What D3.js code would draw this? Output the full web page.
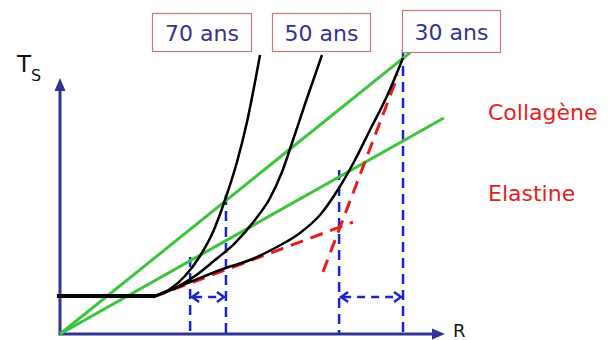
<!DOCTYPE html>
<html><head><meta charset="utf-8">
<script src="https://cdn.jsdelivr.net/npm/d3@7"></script>
<style>body{margin:0;background:#fff}svg{display:block}</style>
</head><body>
<svg id="c" width="612" height="340"></svg>
<script>
// ---- data (schematic units: R on x, T_S on y) ----
const ageLabels = ["70 ans", "50 ans", "30 ans"];
const curve70R = [24.68, 28.57, 32.47, 36.36, 39.74, 43.12, 45.97, 48.57, 51.95];
const curve70T = [12.67, 15.0, 19.33, 26.0, 34.0, 45.67, 57.33, 70.67, 93.0];
const curve50R = [24.68, 29.87, 35.06, 40.26, 45.45, 50.65, 54.55, 57.66, 60.26, 63.64, 68.05];
const curve50T = [12.67, 15.33, 19.33, 24.67, 30.33, 38.0, 45.33, 54.0, 63.67, 76.67, 93.0];
const curve30R = [24.68, 33.77, 42.34, 49.35, 55.84, 62.34, 67.53, 72.47, 76.62, 80.52, 84.94, 89.09];
const curve30T = [12.67, 17.33, 21.67, 24.67, 28.67, 33.67, 39.67, 48.67, 58.0, 68.0, 79.33, 92.0];
const baselineR = [-0.8, 24.68];
const baselineT = [12.67, 12.67];
const greenEndR = [94.3, 99.7];
const greenEndT = [97.3, 72.0];
const vlineR = [33.8, 43.1, 72.5, 89.1];
const vlineTopT = [25.7, 46.3, 54.7, 94.7];
const arrowPairs = [[33.8, 43.1], [72.5, 89.1]];
const arrowT = 12.3;
const elastineTanR = [24.2, 76.1];
const elastineTanT = [12.3, 37.3];
const collagenTanR = [68.3, 87.8];
const collagenTanT = [20.7, 86.3];
const fiberLabels = ["Collagène", "Elastine"];
const axisTopT = 85.3;

// ---- scales ----
const x = d3.scaleLinear().domain([0, 100]).range([60, 445]);
const y = d3.scaleLinear().domain([0, 100]).range([334, 34]);
const svg = d3.select("#c");
const line = d3.line().x(d => x(d[0])).y(d => y(d[1]));
const smooth = d3.line().x(d => x(d[0])).y(d => y(d[1])).curve(d3.curveMonotoneX);
const zip = (a, b) => a.map((v, i) => [v, b[i]]);

const AX = "#34338f", BLUE = "#1c23c8", RED = "#e41e1e", GREEN = "#3cc43c";

// axes
const axG = svg.append("g");
axG.append("line").attr("x1", x(0)).attr("y1", y(0)).attr("x2", x(0)).attr("y2", y(axisTopT) + 10)
  .attr("stroke", AX).attr("stroke-width", 3);
axG.append("path").attr("d", `M${x(0)},${y(axisTopT)} l-5.5,13 l11,0 z`).attr("fill", AX);
axG.append("line").attr("x1", x(0) - 1.5).attr("y1", y(0)).attr("x2", x(100) - 10).attr("y2", y(0))
  .attr("stroke", AX).attr("stroke-width", 3);
axG.append("path").attr("d", `M${x(100)},${y(0)} l-13,-5.5 l0,11 z`).attr("fill", AX);

// axis labels
const ts = svg.append("text").attr("x", 17).attr("y", 72).attr("font-family", "DejaVu Sans")
  .attr("font-size", 23).attr("fill", "#111");
ts.append("tspan").text("T");
ts.append("tspan").attr("font-size", 16).attr("dy", 9).text("S");
svg.append("text").attr("x", 453).attr("y", 337).attr("font-family", "DejaVu Sans")
  .attr("font-size", 18).attr("fill", "#111").text("R");

// blue dashed verticals
svg.append("g").selectAll("line").data(vlineR).join("line")
  .attr("x1", d => x(d)).attr("x2", d => x(d))
  .attr("y1", (d, i) => y(vlineTopT[i])).attr("y2", y(0))
  .attr("stroke", BLUE).attr("stroke-width", 2.5).attr("stroke-dasharray", "10,6");

// double arrows
const arrG = svg.append("g");
arrowPairs.forEach(p => {
  const x1 = x(p[0]) + 2, x2 = x(p[1]) - 2, yy = y(arrowT);
  arrG.append("line").attr("x1", x1 + 2).attr("x2", x2 - 2).attr("y1", yy).attr("y2", yy)
    .attr("stroke", BLUE).attr("stroke-width", 2.5).attr("stroke-dasharray", "8,6");
  arrG.append("path").attr("d", `M${x1 + 7},${yy - 5} L${x1},${yy} L${x1 + 7},${yy + 5}`)
    .attr("fill", "none").attr("stroke", BLUE).attr("stroke-width", 2.5);
  arrG.append("path").attr("d", `M${x2 - 7},${yy - 5} L${x2},${yy} L${x2 - 7},${yy + 5}`)
    .attr("fill", "none").attr("stroke", BLUE).attr("stroke-width", 2.5);
});

// green lines
svg.append("g").selectAll("path").data(greenEndR).join("path")
  .attr("d", (d, i) => line([[0, 0], [d, greenEndT[i]]]))
  .attr("stroke", GREEN).attr("stroke-width", 3).attr("fill", "none");

// red dashed tangents
svg.append("path").attr("d", line(zip(elastineTanR, elastineTanT)))
  .attr("stroke", RED).attr("stroke-width", 3).attr("stroke-dasharray", "13,8").attr("fill", "none");
svg.append("path").attr("d", line(zip(collagenTanR, collagenTanT)))
  .attr("stroke", RED).attr("stroke-width", 3).attr("stroke-dasharray", "13,8").attr("fill", "none");

// black curves
[[curve70R, curve70T], [curve50R, curve50T], [curve30R, curve30T]].forEach(c => {
  svg.append("path").attr("d", smooth(zip(c[0], c[1])))
    .attr("stroke", "#000").attr("stroke-width", 2.5).attr("fill", "none");
});
svg.append("path").attr("d", line(zip(baselineR, baselineT)))
  .attr("stroke", "#000").attr("stroke-width", 4).attr("fill", "none");

// age boxes
const boxes = [[152, 13, 99, 38], [272, 13, 98, 38], [402, 10, 98, 42]];
ageLabels.forEach((t, i) => {
  const b = boxes[i];
  svg.append("rect").attr("x", b[0] + 0.5).attr("y", b[1] + 0.5).attr("width", b[2]).attr("height", b[3])
    .attr("fill", "#fff").attr("stroke", "#c77a78").attr("stroke-width", 1.2);
  svg.append("text").attr("x", b[0] + b[2] / 2 + 0.5).attr("y", i === 2 ? 40 : 41)
    .attr("text-anchor", "middle").attr("font-family", "DejaVu Sans").attr("font-size", 22)
    .attr("fill", "#34338f").text(t);
});

// fiber labels
const fy = [120, 201];
fiberLabels.forEach((t, i) => {
  svg.append("text").attr("x", 488).attr("y", fy[i]).attr("font-family", "DejaVu Sans")
    .attr("font-size", 22).attr("fill", RED).text(t);
});
</script>
</body></html>
